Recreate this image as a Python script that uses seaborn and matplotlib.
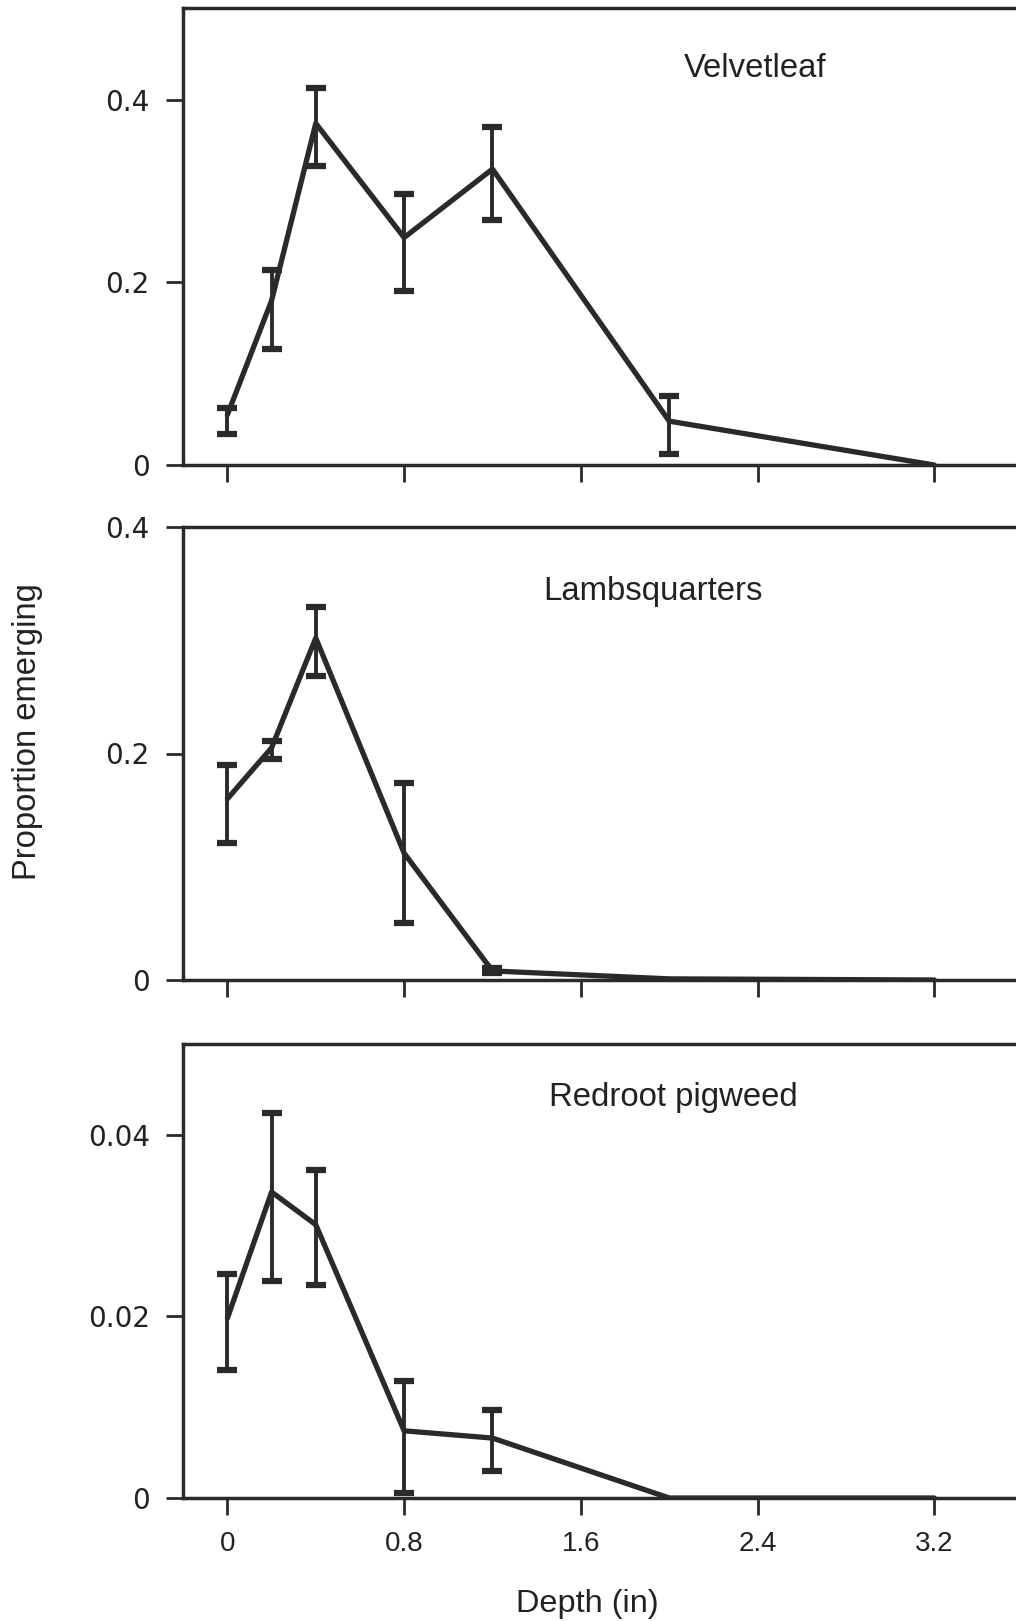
import numpy as np
import matplotlib
matplotlib.use("Agg")
import matplotlib.pyplot as plt
import seaborn as sns

nan = np.nan

depth = [0, 0.2, 0.4, 0.8, 1.2, 2.0, 3.2]
x_ticks = [0, 0.8, 1.6, 2.4, 3.2]
x_ticklabels = ["0", "0.8", "1.6", "2.4", "3.2"]

species = ["Velvetleaf", "Lambsquarters", "Redroot pigweed"]

velvet_mean = [0.055, 0.180, 0.374, 0.249, 0.324, 0.048, 0.0]
velvet_lo = [0.034, 0.127, 0.327, 0.191, 0.268, 0.012, nan]
velvet_hi = [0.062, 0.213, 0.413, 0.297, 0.370, 0.075, nan]

lamb_mean = [0.160, 0.205, 0.302, 0.112, 0.008, 0.001, 0.0]
lamb_lo = [0.121, 0.195, 0.268, 0.050, 0.006, nan, nan]
lamb_hi = [0.190, 0.211, 0.329, 0.174, 0.011, nan, nan]

pig_mean = [0.0198, 0.0337, 0.0301, 0.0074, 0.0066, 0.0, 0.0]
pig_lo = [0.0141, 0.0239, 0.0235, 0.0006, 0.0030, nan, nan]
pig_hi = [0.0247, 0.0424, 0.0361, 0.0129, 0.0097, nan, nan]

y_ticks = [[0, 0.2, 0.4], [0, 0.2, 0.4], [0, 0.02, 0.04]]
y_ticklabels = [["0", "0.2", "0.4"], ["0", "0.2", "0.4"], ["0", "0.02", "0.04"]]
y_limits = [(0, 0.5), (0, 0.4), (0, 0.05)]

sns.set_style("ticks")
plt.rcParams['font.family'] = ['Liberation Sans', 'DejaVu Sans']

W, H = 1016, 1621
fig = plt.figure(figsize=(W / 100, H / 100), dpi=100)
fig.patch.set_facecolor("white")

ink = "#2a2a2a"
left_px = 183
panels_px = [(8.3, 465), (527, 980), (1044, 1498)]
title_pos = [(0.678, 0.869), (0.5575, 0.857), (0.581, 0.883)]

means = [velvet_mean, lamb_mean, pig_mean]
los = [velvet_lo, lamb_lo, pig_lo]
his = [velvet_hi, lamb_hi, pig_hi]

for i in range(3):
    top, bot = panels_px[i]
    ax = fig.add_axes([left_px / W, 1 - bot / H, 0.83, (bot - top) / H])
    m = np.array(means[i])
    lo = np.array(los[i])
    hi = np.array(his[i])
    sns.lineplot(x=depth, y=m, ax=ax, color=ink, linewidth=3.8, sort=False)
    mask = ~np.isnan(lo)
    d = np.array(depth)[mask]
    ax.errorbar(d, m[mask], yerr=[m[mask] - lo[mask], hi[mask] - m[mask]],
                fmt="none", ecolor=ink, elinewidth=2.8, capsize=7, capthick=4.5)
    ax.set_xlim(-0.201, -0.201 + 0.83 * W / 220.9)
    ax.set_ylim(*y_limits[i])
    ax.set_xticks(x_ticks)
    ax.set_yticks(y_ticks[i])
    ax.set_yticklabels(y_ticklabels[i], fontsize=20, family=['DejaVu Sans'])
    if i == 2:
        ax.set_xticklabels(x_ticklabels, fontsize=20)
    else:
        ax.set_xticklabels([])
    ax.tick_params(axis="both", direction="out", length=12, width=2, color=ink,
                   labelcolor="#222222", pad=12)
    for s in ["left", "bottom", "top"]:
        ax.spines[s].set_linewidth(2.5)
        ax.spines[s].set_color(ink)
    ax.spines["right"].set_visible(False)
    ax.set_xlabel("")
    ax.set_ylabel("")
    ax.text(title_pos[i][0], title_pos[i][1], species[i], transform=ax.transAxes,
            ha="center", va="center", fontsize=23.7, color="#222222")

fig.text(28 / W, 1 - 732 / H, "Proportion emerging", rotation=90, ha="center",
         va="center", fontsize=23.6, color="#222222")
fig.text(587 / W, 1 - 1604 / H, "Depth (in)", ha="center", va="center",
         fontsize=23.4, color="#222222")

fig.savefig("out.png", dpi=100, facecolor="white")
